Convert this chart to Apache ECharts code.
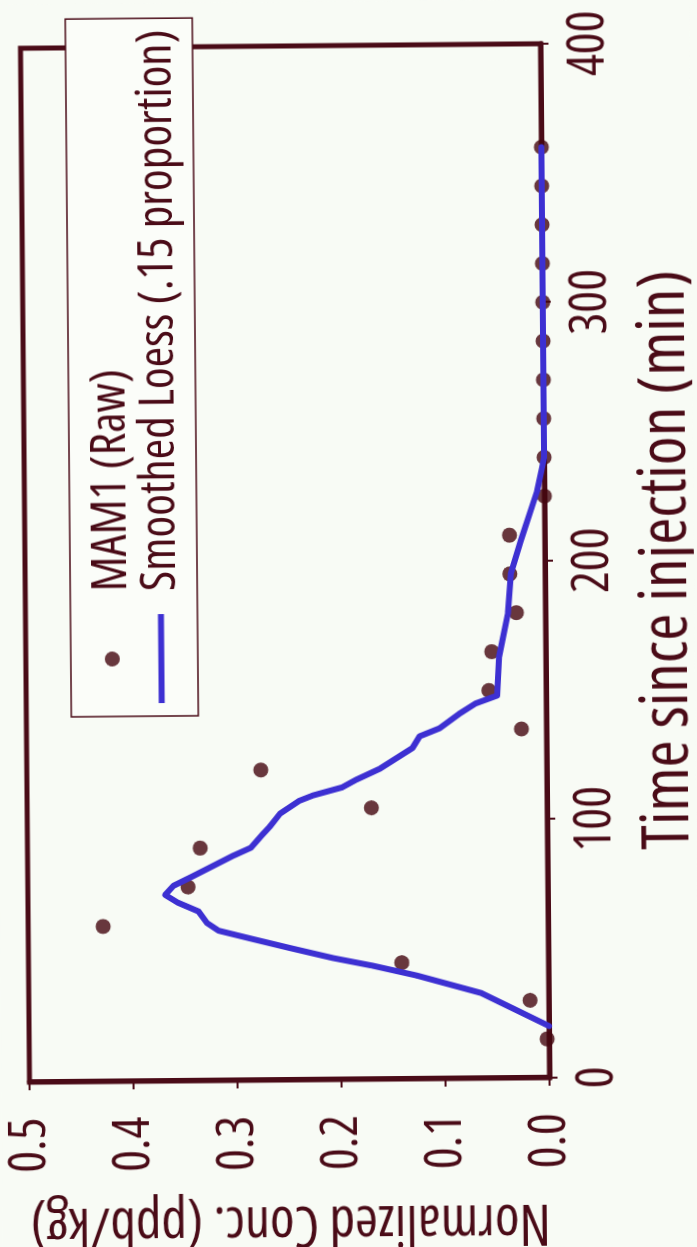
<!DOCTYPE html>
<html>
<head>
<meta charset="utf-8">
<script src="https://cdn.jsdelivr.net/npm/echarts@6/dist/echarts.min.js"></script>
<style>
  html, body { margin: 0; padding: 0; width: 697px; height: 1247px; overflow: hidden; background: #f8fbf5; }
  #chart {
    position: absolute; left: 0; top: 0;
    width: 1247px; height: 697px;
    transform-origin: 686px 288px;
    transform: translate(-401px, 275px) rotate(-90.5deg);
  }
</style>
</head>
<body>
<div id="chart"></div>
<script>
// ---- data ----
const sampleTimes = [15, 30, 45, 60, 75, 90, 105, 120, 135, 150, 165, 180, 195, 210, 225, 240, 255, 270, 285, 300, 315, 330, 345, 360];
const rawConc     = [0.002, 0.018, 0.141, 0.428, 0.346, 0.334, 0.169, 0.275, 0.024, 0.055, 0.052, 0.028, 0.034, 0.034, 0, 0, 0, 0, 0, 0, 0, 0, 0, 0];

const loessTime = [20, 27, 33, 40, 44, 47, 51, 54.5, 58, 61, 65.5, 69, 72, 75.5, 79, 83, 87, 90, 95, 98, 103, 108, 110, 113, 116, 120, 128, 132.5, 135.5, 141, 145, 148, 163, 180, 195, 208, 227, 236, 240, 360];
const loessConc = [0, 0.035, 0.065, 0.127, 0.17, 0.207, 0.248, 0.283, 0.317, 0.328, 0.336, 0.356, 0.368, 0.36, 0.342, 0.322, 0.302, 0.285, 0.274, 0.267, 0.257, 0.238, 0.225, 0.197, 0.183, 0.161, 0.129, 0.122, 0.103, 0.084, 0.068, 0.047, 0.045, 0.036, 0.033, 0.023, 0.007, 0.002, 0, 0];

const timeTicks = [0, 100, 200, 300, 400];
const concTicks = [0, 0.1, 0.2, 0.3, 0.4, 0.5];

const seriesNames = ['MAM1 (Raw)', 'Smoothed Loess (.15 proportion)'];
const xTitle = 'Time since injection (min)';
const yTitle = 'Normalized Conc. (ppb/kg)';

// ---- styling ----
const MAROON = '#4a0b17';
const DOT = '#44060f';
const BLUE = '#3d30d2';

// pick a narrow sans face (the reference uses an Arial-Narrow-like face)
const probe = document.createElement('canvas').getContext('2d');
function mw(pre, fam, txt) { probe.font = pre + ' 100px ' + fam; return probe.measureText(txt).width / 100; }
const TEST = 'Smoothed Loess (.15 proportion) 0123456789';
function has(fam) {
  return Math.abs(mw('normal', fam + ', monospace', TEST) - mw('normal', 'monospace', TEST)) > 0.05 &&
         Math.abs(mw('normal', fam + ', serif', TEST) - mw('normal', 'serif', TEST)) > 0.05;
}
const candidates = [
  { pre: 'normal', fam: "'Liberation Sans Narrow'" },
  { pre: 'normal', fam: "'Arial Narrow'" },
  { pre: 'condensed', fam: "'Liberation Sans'" },
  { pre: 'condensed', fam: "'Noto Sans'" },
  { pre: 'condensed', fam: "'Open Sans'" },
  { pre: 'normal', fam: "'Roboto Condensed'" },
  { pre: 'condensed', fam: "Roboto" },
  { pre: 'normal', fam: "'DejaVu Sans Condensed'" },
  { pre: 'condensed', fam: "'DejaVu Sans'" }
];
let FONT = { pre: 'normal', fam: "'Liberation Sans', Arial, sans-serif" };
for (const c of candidates) {
  if (c.pre === 'normal') {
    if (has(c.fam)) { FONT = c; break; }
  } else {
    if (has(c.fam) && mw('condensed', c.fam, TEST) < 0.93 * mw('normal', c.fam, TEST)) { FONT = c; break; }
  }
}
const fm = txt => mw(FONT.pre, FONT.fam, txt);
// font sizes chosen so text lengths match the reference
const F_tick = (68 / fm('100') + 53 / fm('0.5')) / 2;
const F_leg = 562 / fm(seriesNames[1]);
const F_xt = 580 / fm(xTitle);
const F_yt = 520 / fm(yTitle);
const halfTickW = fm('0.5') * F_tick / 2;

function ts(size) { return { fontFamily: FONT.fam, fontStyle: FONT.pre, fontSize: size, color: MAROON }; }

const chart = echarts.init(document.getElementById('chart'), null, { renderer: 'canvas' });
chart.setOption({
  backgroundColor: '#f8fbf5',
  animation: false,
  grid: {
    left: 169, width: 1034, top: 28, height: 520,
    show: true, borderColor: MAROON, borderWidth: 5, backgroundColor: 'transparent',
    containLabel: false, outerBoundsMode: 'none'
  },
  legend: {
    orient: 'vertical',
    left: 534, top: 73,
    padding: [17, 11, 12, 13],
    itemGap: 0,
    itemWidth: 89, itemHeight: 15,
    backgroundColor: '#fbfdf9',
    borderColor: MAROON, borderWidth: 1.5,
    textStyle: Object.assign(ts(F_leg), { lineHeight: 45, padding: [0, 0, 0, 18] }),
    data: [
      { name: seriesNames[0], icon: 'circle' },
      { name: seriesNames[1], icon: 'path://M0,0L89,0L89,6L0,6Z' }
    ]
  },
  xAxis: {
    type: 'value',
    min: timeTicks[0], max: timeTicks[timeTicks.length - 1], interval: timeTicks[1] - timeTicks[0],
    splitLine: { show: false },
    axisLine: { show: true, onZero: false, lineStyle: { color: MAROON, width: 5 } },
    axisTick: { show: true, inside: false, length: 8, lineStyle: { color: MAROON, width: 2 } },
    axisLabel: Object.assign(ts(F_tick), { margin: 49 - F_tick / 2 }),
    name: xTitle,
    nameLocation: 'middle',
    nameGap: 123 - F_xt / 2,
    nameTextStyle: ts(F_xt)
  },
  yAxis: {
    type: 'value',
    min: concTicks[0], max: concTicks[concTicks.length - 1], interval: concTicks[1] - concTicks[0],
    splitLine: { show: false },
    axisLine: { show: true, onZero: false, lineStyle: { color: MAROON, width: 5 } },
    axisTick: { show: true, inside: false, length: 8, lineStyle: { color: MAROON, width: 2 } },
    axisLabel: Object.assign(ts(F_tick), { margin: 63 - halfTickW, formatter: v => v.toFixed(1) }),
    name: yTitle,
    nameLocation: 'middle',
    nameRotate: 90,
    nameGap: 143 - F_yt / 2,
    nameTextStyle: ts(F_yt)
  },
  series: [
    {
      name: seriesNames[0],
      type: 'scatter',
      symbol: 'circle',
      symbolSize: 15,
      itemStyle: { color: DOT },
      z: 2,
      clip: false,
      data: sampleTimes.map((t, i) => [t, rawConc[i]])
    },
    {
      name: seriesNames[1],
      type: 'line',
      symbol: 'none',
      showSymbol: false,
      smooth: false,
      clip: false,
      lineStyle: { color: BLUE, width: 6, join: 'round', cap: 'round' },
      itemStyle: { color: BLUE },
      z: 3,
      data: loessTime.map((t, i) => [t, loessConc[i]])
    }
  ]
});
</script>
</body>
</html>
